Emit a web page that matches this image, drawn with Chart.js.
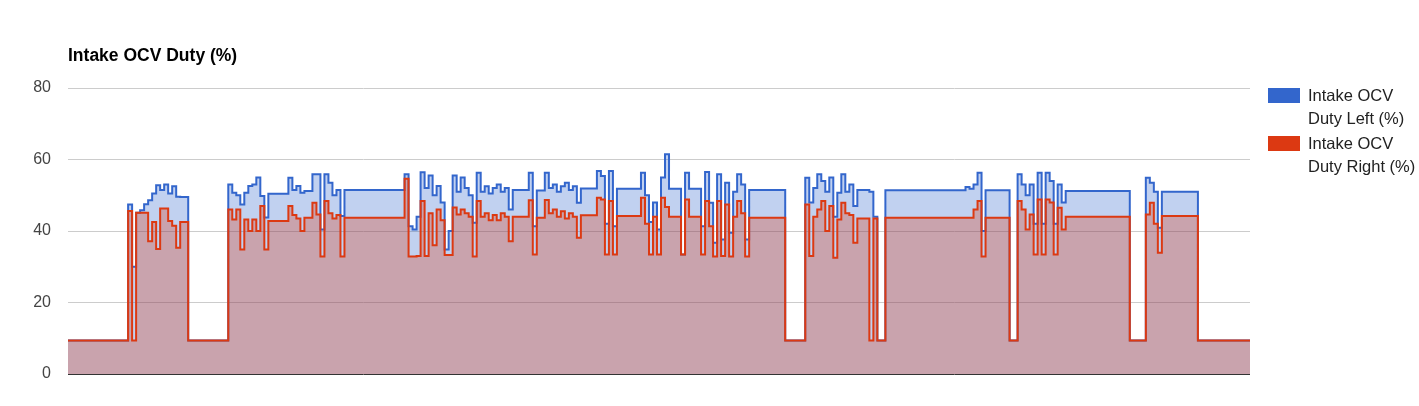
<!DOCTYPE html>
<html>
<head>
<meta charset="utf-8">
<script src="https://cdn.jsdelivr.net/npm/chart.js@4.4.1/dist/chart.umd.min.js"></script>
<style>
  html, body { margin: 0; padding: 0; background: #fff; }
</style>
</head>
<body>
<canvas id="myChart" width="1419" height="406"></canvas>
<script>
    let chartTitle = 'Intake OCV Duty (%)';
    let seriesNames = ['Intake OCV Duty Left (%)', 'Intake OCV Duty Right (%)'];
    let seriesColors = ['#3366cc', '#dc3912'];
    let yTicks = [0, 20, 40, 60, 80];

    // one sample per time step
    let dutyLeft = [
    9.4,9.4,9.4,9.4,9.4,9.4,9.4,9.4,9.4,9.4,
    9.4,9.4,9.4,9.4,9.4,47.4,30,45.1,45.8,47.5,
    48.6,50.5,52.8,51.5,53.0,50.5,52.5,49.6,49.5,49.5,
    9.4,9.4,9.4,9.4,9.4,9.4,9.4,9.4,9.4,9.4,
    53.0,50.7,50.0,47.4,50.7,52.6,53.0,55.0,49.8,43.8,
    50.4,50.4,50.4,50.4,50.4,54.9,51.5,52.6,50.7,51.2,
    51.2,55.9,55.9,40.4,55.9,53.5,50.0,51.5,44.2,51.5,
    51.5,51.5,51.5,51.5,51.5,51.5,51.5,51.5,51.5,51.5,
    51.5,51.5,51.5,51.5,55.9,41.3,40.4,44.0,56.4,52.0,
    55.5,50.0,52.6,48.0,34.8,40.0,55.5,51.0,55.0,52.0,
    50.0,42.3,56.3,51.0,52.5,50.5,52.0,53.0,51.0,52.0,
    46.0,51.5,51.5,51.5,51.5,56.3,41.3,51.3,51.3,56.3,
    52.0,53.0,51.0,52.5,53.5,51.5,52.5,47.9,51.9,51.9,
    51.9,51.9,56.8,55.4,42.0,56.8,41.3,51.8,51.8,51.8,
    51.8,51.8,51.8,56.3,50.0,42.5,48.0,40.4,55.0,61.5,
    51.8,51.8,51.8,33.4,56.3,51.8,51.8,51.8,41.3,56.5,
    47.9,36.7,55.9,37.6,53.5,39.5,51.0,55.9,53.0,37.6,
    51.5,51.5,51.5,51.5,51.5,51.5,51.5,51.5,51.5,9.4,
    9.4,9.4,9.4,9.4,54.9,48.0,52.0,55.9,54.0,51.0,
    55.0,44.0,50.7,55.9,51.0,53.0,47.0,51.5,51.5,51.5,
    51.0,44.0,9.4,9.4,51.4,51.4,51.4,51.4,51.4,51.4,
    51.4,51.4,51.4,51.4,51.4,51.4,51.4,51.4,51.4,51.4,
    51.4,51.4,51.4,51.4,52.3,51.8,53.0,56.3,40.0,51.4,
    51.4,51.4,51.4,51.4,51.4,9.4,9.4,55.9,53.0,50.0,
    53.0,42.0,56.3,42.0,56.3,54.0,42.0,53.0,48.0,51.2,
    51.2,51.2,51.2,51.2,51.2,51.2,51.2,51.2,51.2,51.2,
    51.2,51.2,51.2,51.2,51.2,9.4,9.4,9.4,9.4,54.9,
    53.5,51.0,40.9,51.0,51.0,51.0,51.0,51.0,51.0,51.0,
    51.0,51.0,9.4,9.4,9.4,9.4,9.4,9.4,9.4,9.4,
    9.4,9.4,9.4,9.4,9.4,9.4
    ];

    let dutyRight = [
    9.4,9.4,9.4,9.4,9.4,9.4,9.4,9.4,9.4,9.4,
    9.4,9.4,9.4,9.4,9.4,45.6,9.4,45.1,45.1,45.1,
    37.1,42.5,35.0,46.3,46.3,42.8,41.5,35.3,42.5,42.5,
    9.4,9.4,9.4,9.4,9.4,9.4,9.4,9.4,9.4,9.4,
    46.0,43.2,46.0,34.8,43.2,40.0,43.2,40.0,47.0,34.8,
    42.8,42.8,42.8,42.8,42.8,47.0,44.5,43.5,40.0,43.7,
    43.7,47.9,44.6,32.9,48.4,45.0,43.5,44.5,32.9,43.7,
    43.7,43.7,43.7,43.7,43.7,43.7,43.7,43.7,43.7,43.7,
    43.7,43.7,43.7,43.7,54.6,32.9,32.9,33.0,48.4,33.0,
    45.0,36.0,46.0,43.0,33.3,33.3,46.6,44.6,46.0,45.0,
    44.0,32.9,48.4,44.0,45.0,43.0,44.5,43.0,45.0,44.0,
    37.1,44.0,44.0,44.0,44.0,48.6,33.4,43.7,43.7,48.7,
    45.0,46.0,44.0,45.5,43.5,45.0,44.0,38.1,44.4,44.4,
    44.4,44.4,49.3,48.8,33.4,48.4,33.4,44.2,44.2,44.2,
    44.2,44.2,44.2,49.3,42.0,33.4,44.0,33.4,49.3,46.7,
    44.0,44.0,44.0,33.4,48.8,44.0,44.0,44.0,33.4,48.4,
    41.3,32.9,48.4,33.0,47.4,32.9,44.0,48.4,45.0,32.9,
    43.7,43.7,43.7,43.7,43.7,43.7,43.7,43.7,43.7,9.4,
    9.4,9.4,9.4,9.4,47.4,33.0,44.0,46.0,48.4,40.0,
    47.0,32.5,43.2,47.9,45.0,44.5,36.7,43.5,43.5,43.5,
    9.4,43.5,9.4,9.4,43.7,43.7,43.7,43.7,43.7,43.7,
    43.7,43.7,43.7,43.7,43.7,43.7,43.7,43.7,43.7,43.7,
    43.7,43.7,43.7,43.7,43.7,43.7,46.0,48.4,32.9,43.7,
    43.7,43.7,43.7,43.7,43.7,9.4,9.4,48.4,46.0,40.4,
    44.6,33.4,48.8,33.4,48.8,48.0,33.4,46.5,40.4,44.0,
    44.0,44.0,44.0,44.0,44.0,44.0,44.0,44.0,44.0,44.0,
    44.0,44.0,44.0,44.0,44.0,9.4,9.4,9.4,9.4,44.6,
    47.9,42.0,33.9,44.2,44.2,44.2,44.2,44.2,44.2,44.2,
    44.2,44.2,9.4,9.4,9.4,9.4,9.4,9.4,9.4,9.4,
    9.4,9.4,9.4,9.4,9.4,9.4
    ];

    let samples = dutyLeft.map((v, i) => i);

    function fillOf(hex) {
        let n = parseInt(hex.slice(1), 16);
        return 'rgba(' + (n >> 16) + ',' + ((n >> 8) & 255) + ',' + (n & 255) + ',0.3)';
    }

    // title on top left, wrapped legend on the right
    let overlay = {
        id: 'overlay',
        afterDraw(chart) {
            let c = chart.ctx, a = chart.chartArea;
            c.save();
            c.textAlign = 'left';
            c.textBaseline = 'alphabetic';
            c.fillStyle = '#000';
            c.font = 'bold 17.5px Arial, "Liberation Sans", sans-serif';
            c.fillText(chartTitle, a.left, 61);

            c.font = '16.5px Arial, "Liberation Sans", sans-serif';
            let textX = a.right + 58;
            let maxW = chart.width - textX - 2;
            seriesNames.forEach((name, k) => {
                let top = a.top + k * 48;
                c.fillStyle = seriesColors[k];
                c.fillRect(a.right + 18, top, 32, 15);
                let words = name.split(' '), lines = [], cur = '';
                words.forEach(w => {
                    let t = cur ? cur + ' ' + w : w;
                    if (cur && c.measureText(t).width > maxW) { lines.push(cur); cur = w; }
                    else cur = t;
                });
                lines.push(cur);
                c.fillStyle = '#222';
                lines.forEach((ln, j) => c.fillText(ln, textX, top + 13 + j * 22.5));
            });
            c.restore();
        }
    };

    let myChart = document.getElementById('myChart').getContext('2d');

    let areaChart = new Chart(myChart, {
    type: 'line',
    data: {
    labels: samples,
    datasets: [{
        label: seriesNames[0],
        data: dutyLeft,
        borderColor: seriesColors[0],
        backgroundColor: fillOf(seriesColors[0]),
        fill: 'origin',
        order: 1
    }, {
        label: seriesNames[1],
        data: dutyRight,
        borderColor: seriesColors[1],
        backgroundColor: fillOf(seriesColors[1]),
        fill: 'origin',
        order: 0
    }]
    },
    options: {
        responsive: false,
        animation: false,
        layout: { padding: { left: 0, right: 169, top: 88, bottom: 32 } },
        elements: {
            point: { radius: 0, hoverRadius: 0 },
            line: { borderWidth: 2, stepped: true, tension: 0 }
        },
        plugins: {
            legend: { display: false },
            title: { display: false },
            tooltip: { enabled: false }
        },
        scales: {
            x: { type: 'category', display: false, offset: false },
            y: {
                min: 0,
                max: 80,
                afterFit: s => { s.width = 68; },
                afterBuildTicks: s => { s.ticks = yTicks.map(v => ({ value: v })); },
                border: { display: false },
                grid: {
                    drawTicks: false,
                    lineWidth: 1,
                    color: ctx => ctx.tick && ctx.tick.value === 0 ? '#333333' : '#cccccc'
                },
                ticks: {
                    padding: 17,
                    color: '#444',
                    font: { family: 'Arial, "Liberation Sans", sans-serif', size: 16 }
                }
            }
        }
    },
    plugins: [overlay]
    });
</script>
</body>
</html>
